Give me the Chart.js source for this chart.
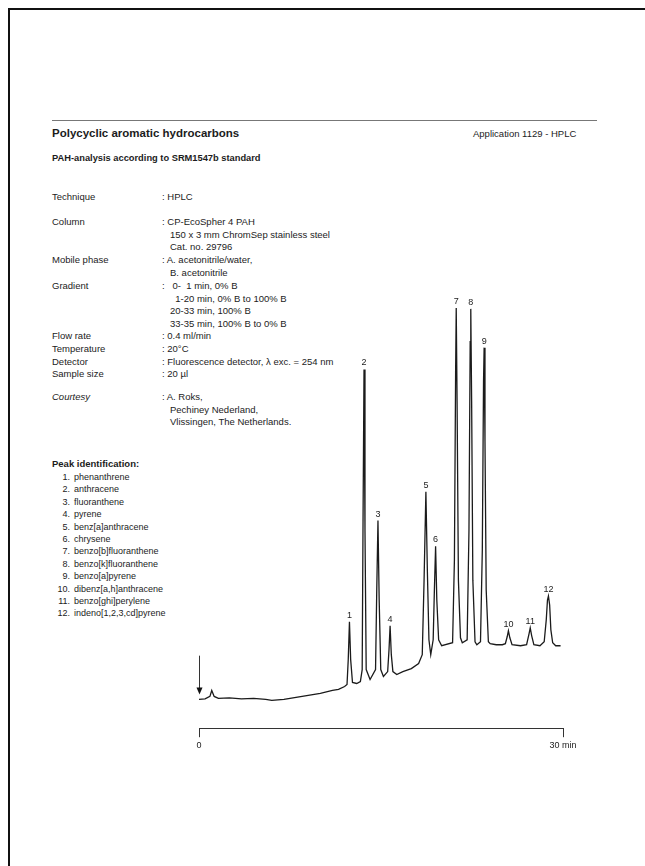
<!DOCTYPE html>
<html>
<head>
<meta charset="utf-8">
<title>PAH-analysis – HPLC</title>
<script src="https://cdn.jsdelivr.net/npm/chart.js@4.4.0/dist/chart.umd.min.js"></script>
<style>
  html, body { margin: 0; padding: 0; background: #fff; }
  body { width: 645px; height: 866px; position: relative; overflow: hidden;
         font-family: "Liberation Sans", Arial, Helvetica, sans-serif; color: #1c1c1c; }
  .frame { position: absolute; left: 8px; top: 8px; right: -10px; bottom: -10px;
           border-left: 2px solid #111; border-top: 2px solid #111; }
  .rule { position: absolute; left: 52px; top: 120px; width: 545px; height: 0;
          border-top: 1px solid #777; }
  .t { position: absolute; font-size: 9.5px; line-height: 12px; white-space: pre; }
  .b { font-weight: bold; }
  .i { font-style: italic; }
  .pk { font-size: 9px; }
  .num { text-align: right; width: 16px; }
  #chromWrap { position: absolute; left: 170px; top: 270px; width: 430px; height: 490px; }
</style>
</head>
<body>
<div class="frame"></div>
<div class="rule"></div>

<div class="t b" style="left:52px; top:126px; font-size:11.5px; line-height:14px;">Polycyclic aromatic hydrocarbons</div>
<div class="t" style="left:473px; top:128px;">Application 1129 - HPLC</div>
<div class="t b" style="left:52px; top:152px; font-size:9.3px;">PAH-analysis according to SRM1547b standard</div>

<div id="method"></div>
<div id="peaks"></div>

<div id="chromWrap"><canvas id="chrom" width="430" height="490"></canvas></div>

<script>
// ---- chromatogram data (time in min, detector signal in arbitrary units) ----
const traceTimes = [
  0.0, 0.5, 0.9, 1.05, 1.25, 1.6, 2.5, 3.5, 4.5, 5.5, 6.0, 7.0, 8.0, 9.0, 10.0, 11.0, 11.5, 12.0, 12.2,
  12.3, 12.4, 12.5, 12.65, 13.0, 13.3,
  13.45, 13.52, 13.6, 13.68, 13.78, 14.1,
  14.55, 14.65, 14.75, 14.85, 14.98, 15.2,
  15.55, 15.66, 15.75, 15.85, 15.98, 16.3, 16.8, 17.5, 18.1,
  18.4, 18.55, 18.7, 18.82, 18.95, 19.1,
  19.3, 19.4, 19.5, 19.6, 19.75, 20.0,
  20.9, 21.05, 21.15, 21.2, 21.27, 21.38, 21.55, 21.7,
  22.1, 22.25, 22.35, 22.4, 22.47, 22.57, 22.75, 22.9,
  23.2, 23.35, 23.45, 23.5, 23.57, 23.67, 23.85, 24.0, 24.5, 25.0,
  25.25, 25.4, 25.5, 25.62, 25.8, 26.5,
  27.0, 27.2, 27.3, 27.42, 27.6, 28.1,
  28.45, 28.62, 28.72, 28.8, 28.9, 29.0, 29.15, 29.4, 29.8
];
const traceSignal = [
  0, 0.5, 3, 9, 3, 1, 1.5, 0.5, 1, 0, -1, 0, 2, 4, 6, 9, 10, 13, 15,
  40, 78, 40, 17, 16, 18,
  30, 180, 332, 170, 30, 20,
  30, 110, 180, 100, 30, 23,
  28, 50, 74, 45, 28, 25, 28, 31, 36,
  45, 120, 209, 130, 60, 45,
  60, 110, 154, 100, 60, 54,
  57, 140, 330, 394, 300, 120, 62, 57,
  60, 170, 360, 393, 300, 120, 58, 55,
  58, 150, 320, 354, 260, 110, 58, 56, 55, 55,
  56, 63, 69, 62, 55, 54,
  55, 66, 72, 64, 55, 54,
  58, 80, 100, 104, 95, 70, 57, 54, 54
];

// peak apexes, numbered as in the identification list
const peakNumbers = [1, 2, 3, 4, 5, 6, 7, 8, 9, 10, 11, 12];
const peakTimes   = [12.4, 13.6, 14.75, 15.75, 18.7, 19.5, 21.2, 22.4, 23.5, 25.5, 27.3, 28.8];
const peakHeights = [78, 332, 180, 74, 209, 154, 394, 393, 354, 69, 72, 104];
const peakNames = [
  'phenanthrene', 'anthracene', 'fluoranthene', 'pyrene', 'benz[a]anthracene', 'chrysene',
  'benzo[b]fluoranthene', 'benzo[k]fluoranthene', 'benzo[a]pyrene',
  'dibenz[a,h]anthracene', 'benzo[ghi]perylene', 'indeno[1,2,3,cd]pyrene'
];

const xTickValues = [0, 30];
const xTickLabels = ['0', '30 min'];
const injectionTime = 0;

// ---- method table ----
const methodLabels = ['Technique', 'Column', 'Mobile phase', 'Gradient', 'Flow rate',
                      'Temperature', 'Detector', 'Sample size', 'Courtesy'];
const methodLines = [
  [': HPLC'],
  [': CP-EcoSpher 4 PAH', '150 x 3 mm ChromSep stainless steel', 'Cat. no. 29796'],
  [': A. acetonitrile/water,', 'B. acetonitrile'],
  [':   0-  1 min, 0% B', '  1-20 min, 0% B to 100% B', '20-33 min, 100% B', '33-35 min, 100% B to 0% B'],
  [': 0.4 ml/min'],
  [': 20°C'],
  [': Fluorescence detector, λ exc. = 254 nm'],
  [': 20 µl'],
  [': A. Roks,', 'Pechiney Nederland,', 'Vlissingen, The Netherlands.']
];
const methodRowY = [197, 222, 260, 286, 336, 349, 362, 374, 397];

const methodBox = document.getElementById('method');
methodLabels.forEach((label, i) => {
  const y = methodRowY[i];
  let html = `<div class="t${label === 'Courtesy' ? ' i' : ''}" style="left:52px; top:${y - 6}px;">${label}</div>`;
  methodLines[i].forEach((line, k) => {
    const x = k === 0 ? 162 : 170;
    html += `<div class="t" style="left:${x}px; top:${y - 6 + k * 12.6}px;">${line}</div>`;
  });
  methodBox.innerHTML += html;
});

// ---- peak identification list ----
const peaksBox = document.getElementById('peaks');
peaksBox.innerHTML = `<div class="t b" style="left:52px; top:458px;">Peak identification:</div>`;
peakNames.forEach((name, i) => {
  const y = 477 + i * 12.4;
  peaksBox.innerHTML += `
    <div class="t pk num" style="left:54px; top:${y - 6}px;">${peakNumbers[i]}.</div>
    <div class="t pk" style="left:74px; top:${y - 6}px;">${name}</div>`;
});

// ---- plugins: peak numbers and injection arrow ----
const peakLabelPlugin = {
  id: 'peakLabels',
  afterDatasetsDraw(chart) {
    const { ctx, scales: { x, y } } = chart;
    ctx.save();
    ctx.fillStyle = '#1c1c1c';
    ctx.font = '9px "Liberation Sans", Arial, sans-serif';
    ctx.textAlign = 'center';
    ctx.textBaseline = 'bottom';
    peakNumbers.forEach((n, i) => {
      ctx.fillText(String(n), x.getPixelForValue(peakTimes[i]), y.getPixelForValue(peakHeights[i]) - 2);
    });
    ctx.restore();
  }
};

const injectionPlugin = {
  id: 'injection',
  afterDatasetsDraw(chart) {
    const { ctx, scales: { x, y } } = chart;
    const px = Math.round(x.getPixelForValue(injectionTime)) + 0.5;
    const top = y.getPixelForValue(44);
    const tip = y.getPixelForValue(5);
    ctx.save();
    ctx.strokeStyle = '#333';
    ctx.fillStyle = '#111';
    ctx.lineWidth = 1;
    ctx.beginPath();
    ctx.moveTo(px, top);
    ctx.lineTo(px, tip - 6);
    ctx.stroke();
    ctx.beginPath();
    ctx.moveTo(px - 3, tip - 7);
    ctx.lineTo(px + 3, tip - 7);
    ctx.lineTo(px, tip);
    ctx.closePath();
    ctx.fill();
    ctx.restore();
  }
};

new Chart(document.getElementById('chrom'), {
  type: 'line',
  data: {
    datasets: [{
      data: traceTimes.map((t, i) => ({ x: t, y: traceSignal[i] })),
      borderColor: '#1b1b1b',
      borderWidth: 1.3,
      pointRadius: 0,
      tension: 0,
      fill: false
    }]
  },
  options: {
    responsive: false,
    animation: false,
    devicePixelRatio: 1,
    layout: { padding: { left: 29, right: 37, top: 20, bottom: 6 } },
    plugins: { legend: { display: false }, tooltip: { enabled: false } },
    scales: {
      x: {
        type: 'linear',
        min: 0,
        max: 30,
        afterBuildTicks: (scale) => { scale.ticks = xTickValues.map(v => ({ value: v })); },
        ticks: {
          color: '#1c1c1c',
          font: { family: '"Liberation Sans", Arial, sans-serif', size: 9 },
          padding: 3,
          maxRotation: 0,
          callback: (v) => xTickLabels[xTickValues.indexOf(v)]
        },
        grid: { drawOnChartArea: false, tickLength: 9, color: '#333' },
        border: { display: true, color: '#333', width: 1 }
      },
      y: { display: false, min: -29, max: 412 }
    }
  },
  plugins: [peakLabelPlugin, injectionPlugin]
});
</script>
</body>
</html>
